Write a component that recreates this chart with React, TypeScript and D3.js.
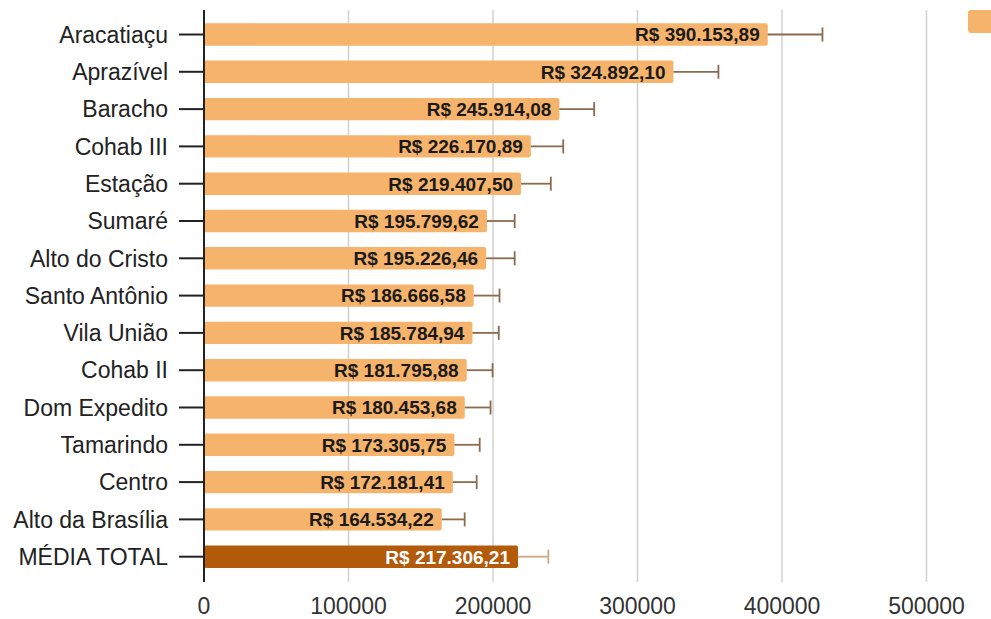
import React from "react";
import * as d3 from "d3";

const categories = [
  "Aracatiaçu", "Aprazível", "Baracho", "Cohab III", "Estação", "Sumaré",
  "Alto do Cristo", "Santo Antônio", "Vila União", "Cohab II", "Dom Expedito",
  "Tamarindo", "Centro", "Alto da Brasília", "MÉDIA TOTAL",
];
const values = [
  390153.89, 324892.10, 245914.08, 226170.89, 219407.50, 195799.62,
  195226.46, 186666.58, 185784.94, 181795.88, 180453.68, 173305.75,
  172181.41, 164534.22, 217306.21,
];
const errorUpper = [
  428000, 356000, 270000, 248600, 240000, 215000,
  215000, 204500, 204000, 199700, 198300, 190800,
  188700, 180400, 238300,
];
const labels = [
  "R$ 390.153,89", "R$ 324.892,10", "R$ 245.914,08", "R$ 226.170,89",
  "R$ 219.407,50", "R$ 195.799,62", "R$ 195.226,46", "R$ 186.666,58",
  "R$ 185.784,94", "R$ 181.795,88", "R$ 180.453,68", "R$ 173.305,75",
  "R$ 172.181,41", "R$ 164.534,22", "R$ 217.306,21",
];
const xTicks = [0, 100000, 200000, 300000, 400000, 500000];

const W = 991;
const H = 619;

export default function App() {
  const x = d3.scaleLinear().domain([0, 500000]).range([204, 926.5]);
  const y = d3.scaleBand<string>().domain(categories).range([8.4, 582.8]).paddingInner(0.4).paddingOuter(0.4);
  const bw = y.bandwidth();
  const font = "'Liberation Sans', Arial, sans-serif";
  const last = categories.length - 1;

  return (
    <svg width={W} height={H} style={{ position: "absolute", left: 0, top: 0, background: "#fff" }} fontFamily={font}>
      {xTicks.filter((t) => t > 0).map((t) => (
        <line key={t} x1={x(t)} x2={x(t)} y1={10} y2={582} stroke="#d0d0d0" strokeWidth={1.5} />
      ))}
      {categories.map((c, i) => (
        <rect key={c} x={x(0)} y={y(c)} width={x(values[i]) - x(0)} height={bw} rx={2}
          fill={i === last ? "#b35a0b" : "#f6b36c"} />
      ))}
      {categories.map((c, i) => {
        const cy = (y(c) as number) + bw / 2;
        const col = i === last ? "#cda882" : "#8c6a4c";
        return (
          <g key={c} stroke={col} strokeWidth={1.8}>
            <line x1={x(values[i])} x2={x(errorUpper[i])} y1={cy} y2={cy} />
            <line x1={x(errorUpper[i])} x2={x(errorUpper[i])} y1={cy - 7} y2={cy + 7} />
          </g>
        );
      })}
      {categories.map((c, i) => (
        <text key={c} x={x(values[i]) - 8} y={(y(c) as number) + bw / 2} dy="0.36em" textAnchor="end"
          fontSize={19} fontWeight="bold" fill={i === last ? "#ffffff" : "#1a1a1a"}>
          {labels[i]}
        </text>
      ))}
      <line x1={x(0)} x2={x(0)} y1={10} y2={582} stroke="#222" strokeWidth={2} />
      {categories.map((c) => {
        const cy = (y(c) as number) + bw / 2;
        return (
          <g key={c}>
            <line x1={179} x2={x(0)} y1={cy} y2={cy} stroke="#222" strokeWidth={2} />
            <text x={168} y={cy} dy="0.36em" textAnchor="end" fontSize={23} fill="#222">{c}</text>
          </g>
        );
      })}
      {xTicks.map((t) => (
        <text key={t} x={x(t)} y={606} dy="0.36em" textAnchor="middle" fontSize={23} fill="#333">{String(t)}</text>
      ))}
      <rect x={968} y={10} width={30} height={23} rx={3} fill="#f6b36c" />
    </svg>
  );
}
